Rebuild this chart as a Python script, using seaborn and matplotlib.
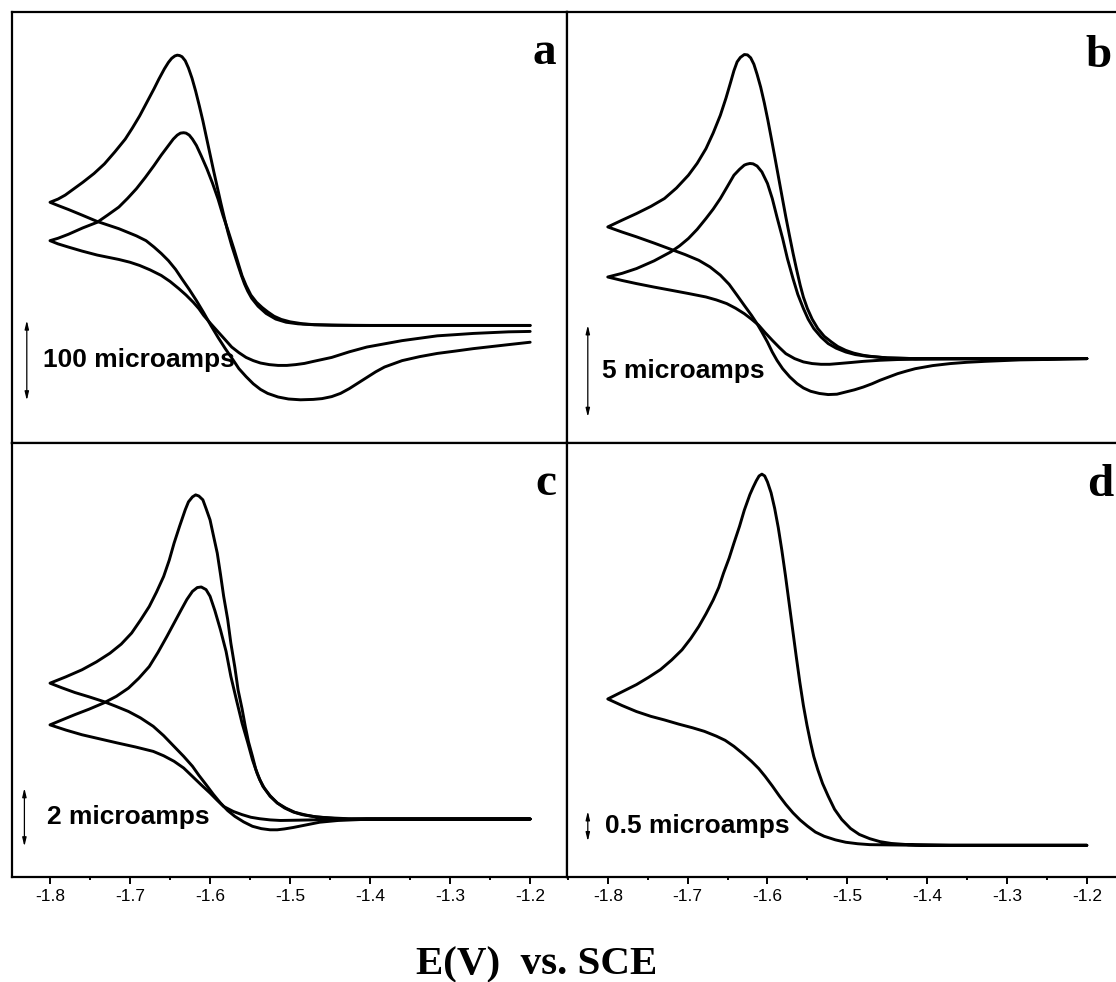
"""
Cyclic voltammograms (panels a-d), current vs E(V) vs. SCE
"""

import numpy as np
import pandas as pd
import matplotlib
matplotlib.use('Agg')
import matplotlib.pyplot as plt
from matplotlib.ticker import MultipleLocator, FormatStrFormatter
import seaborn as sns

# ---- panel a (microamps) ----
a1_E_fwd = [-1.200, -1.300, -1.400, -1.440, -1.470, -1.490, -1.505, -1.518, -1.530, -1.540, -1.548,
            -1.553, -1.557, -1.561, -1.565, -1.569, -1.573, -1.5775, -1.582, -1.5865, -1.591, -1.5955,
            -1.600, -1.6045, -1.609, -1.6135, -1.618, -1.6225, -1.627, -1.631, -1.635, -1.638, -1.641,
            -1.644, -1.648, -1.652, -1.657, -1.664, -1.670, -1.679, -1.688, -1.697, -1.706, -1.719,
            -1.732, -1.745, -1.759, -1.770, -1.781, -1.790, -1.800]
a1_I_fwd = [0, 0, 0, 0.3, 0.8, 2, 4, 8, 15, 24, 34,
            43, 52, 63, 75, 87.5, 100, 116, 134, 153, 173, 193,
            214, 235, 256, 275, 293, 309, 322, 331, 336, 337.5, 338,
            337, 334, 329, 321, 308, 296, 279, 262, 247, 233, 217,
            202, 190, 179, 171, 163, 158, 154]
a1_E_rev = [-1.800, -1.790, -1.777, -1.760, -1.741, -1.714, -1.692, -1.680, -1.670, -1.661, -1.652,
            -1.643, -1.635, -1.626, -1.617, -1.608, -1.599, -1.590, -1.581, -1.572, -1.564, -1.555,
            -1.546, -1.537, -1.528, -1.515, -1.502, -1.487, -1.471, -1.460, -1.448, -1.437, -1.426,
            -1.415, -1.404, -1.393, -1.382, -1.371, -1.360, -1.338, -1.316, -1.293, -1.271, -1.249,
            -1.227, -1.200]
a1_I_rev = [154, 150, 145, 138, 130, 121, 112, 106, 98, 90, 81,
            70, 58, 45, 31, 16, 0, -15, -29, -42, -54, -64,
            -73, -80, -85, -89.5, -92, -93, -92.5, -91.5, -89, -85, -79,
            -72, -65, -58, -52, -48, -44, -39, -35, -32, -29, -26.5,
            -24, -21]

a2_E_fwd = [-1.200, -1.300, -1.420, -1.448, -1.470, -1.484, -1.500, -1.511, -1.520, -1.528, -1.535,
            -1.542, -1.549, -1.555, -1.560, -1.564, -1.570, -1.577, -1.584, -1.590, -1.597, -1.604,
            -1.611, -1.617, -1.622, -1.626, -1.630, -1.633, -1.637, -1.641, -1.646, -1.652, -1.661,
            -1.670, -1.681, -1.692, -1.703, -1.714, -1.728, -1.741, -1.759, -1.777, -1.790, -1.800]
a2_I_fwd = [0, 0, 0, 0.3, 1, 2, 4.5, 7.5, 11.5, 17, 22.5,
            29, 38, 50, 62, 75, 95, 117, 138, 158, 178, 196,
            212, 225, 233, 238, 240.5, 241, 240.5, 238, 233, 225, 213,
            200, 185, 171, 159, 148, 138, 129, 122, 114, 109, 106]
a2_E_rev = [-1.800, -1.790, -1.777, -1.760, -1.741, -1.714, -1.700, -1.688, -1.675, -1.661, -1.650,
            -1.639, -1.630, -1.621, -1.614, -1.608, -1.599, -1.590, -1.581, -1.573, -1.564, -1.555,
            -1.546, -1.537, -1.526, -1.515, -1.504, -1.493, -1.482, -1.471, -1.448, -1.426, -1.404,
            -1.382, -1.360, -1.338, -1.316, -1.293, -1.271, -1.249, -1.227, -1.200]
a2_I_rev = [106, 102, 98, 93, 88, 82.5, 79, 75, 69.5, 62.5, 55,
            46, 38, 29, 21, 12.5, 2, -8, -18, -27, -34, -40,
            -44, -47, -49, -50, -50, -49, -47.5, -45, -40, -33, -27,
            -23, -19, -16, -13, -11.5, -10, -9, -8, -7.5]

# ---- panel b (microamps) ----
b1_E_fwd = [-1.200, -1.415, -1.450, -1.470, -1.480, -1.492, -1.502, -1.512, -1.520, -1.529, -1.537,
            -1.544, -1.550, -1.555, -1.559, -1.5635, -1.568, -1.5725, -1.577, -1.5815, -1.586, -1.5905,
            -1.595, -1.5995, -1.604, -1.6085, -1.613, -1.617, -1.621, -1.625, -1.629, -1.634, -1.638,
            -1.642, -1.646, -1.652, -1.659, -1.668, -1.677, -1.688, -1.699, -1.714, -1.729, -1.746,
            -1.764, -1.782, -1.800]
b1_I_fwd = [0, 0, 0.04, 0.12, 0.18, 0.3, 0.45, 0.66, 0.91, 1.22, 1.64,
            2.15, 2.73, 3.35, 4.0, 4.85, 5.75, 6.72, 7.72, 8.78, 9.85, 10.92,
            11.97, 13.0, 13.95, 14.8, 15.5, 16.05, 16.4, 16.56, 16.58, 16.42, 16.18,
            15.7, 15.09, 14.2, 13.27, 12.3, 11.45, 10.65, 10.0, 9.3, 8.73, 8.3,
            7.91, 7.55, 7.18]
b1_E_rev = [-1.800, -1.782, -1.764, -1.742, -1.721, -1.703, -1.686, -1.672, -1.659, -1.648, -1.638,
            -1.629, -1.620, -1.613, -1.607, -1.600, -1.594, -1.588, -1.581, -1.572, -1.563, -1.555,
            -1.546, -1.535, -1.524, -1.513, -1.502, -1.491, -1.480, -1.469, -1.459, -1.448, -1.437,
            -1.426, -1.415, -1.393, -1.371, -1.350, -1.328, -1.284, -1.240, -1.200]
b1_I_rev = [7.18, 6.9, 6.64, 6.3, 5.96, 5.67, 5.36, 5.0, 4.55, 4.05, 3.45,
            2.9, 2.36, 1.9, 1.45, 0.9, 0.36, -0.1, -0.55, -1.0, -1.36, -1.6,
            -1.78, -1.9, -1.96, -1.94, -1.82, -1.7, -1.55, -1.37, -1.18, -1.0, -0.82,
            -0.68, -0.55, -0.38, -0.27, -0.2, -0.15, -0.07, -0.04, 0]

b2_E_fwd = [-1.200, -1.415, -1.450, -1.476, -1.490, -1.502, -1.514, -1.524, -1.533, -1.542, -1.549,
            -1.555, -1.562, -1.568, -1.575, -1.581, -1.588, -1.594, -1.600, -1.607, -1.613, -1.618,
            -1.622, -1.626, -1.629, -1.635, -1.642, -1.650, -1.659, -1.668, -1.677, -1.688, -1.699,
            -1.710, -1.721, -1.742, -1.764, -1.782, -1.800]
b2_I_fwd = [0, 0, 0.04, 0.13, 0.22, 0.36, 0.57, 0.82, 1.18, 1.64, 2.15,
            2.73, 3.5, 4.36, 5.45, 6.55, 7.7, 8.73, 9.55, 10.18, 10.5, 10.62,
            10.64, 10.6, 10.55, 10.32, 10.0, 9.4, 8.73, 8.15, 7.64, 7.05, 6.55,
            6.15, 5.82, 5.33, 4.91, 4.65, 4.45]
b2_E_rev = [-1.800, -1.782, -1.764, -1.742, -1.721, -1.699, -1.677, -1.664, -1.651, -1.640, -1.629,
            -1.620, -1.611, -1.603, -1.594, -1.585, -1.577, -1.566, -1.555, -1.544, -1.533, -1.522,
            -1.511, -1.495, -1.480, -1.459, -1.437, -1.404, -1.371, -1.300, -1.200]
b2_I_rev = [4.45, 4.26, 4.09, 3.9, 3.73, 3.55, 3.36, 3.2, 3.0, 2.75, 2.45,
            2.15, 1.82, 1.42, 1.0, 0.6, 0.27, 0.0, -0.18, -0.27, -0.31, -0.31,
            -0.27, -0.21, -0.15, -0.09, -0.05, -0.03, -0.02, -0.01, 0]

# ---- panel c (microamps) ----
c1_E_fwd = [-1.200, -1.427, -1.445, -1.458, -1.472, -1.485, -1.496, -1.507, -1.516, -1.525, -1.532,
            -1.538, -1.543, -1.547, -1.552, -1.556, -1.560, -1.565, -1.569, -1.574, -1.578, -1.583,
            -1.587, -1.591, -1.596, -1.600, -1.605, -1.609, -1.614, -1.618, -1.622, -1.627, -1.631,
            -1.638, -1.645, -1.651, -1.658, -1.667, -1.676, -1.687, -1.698, -1.711, -1.725, -1.742,
            -1.760, -1.780, -1.800]
c1_I_fwd = [0, 0, 0.02, 0.05, 0.09, 0.15, 0.24, 0.38, 0.55, 0.78, 1.05,
            1.35, 1.72, 2.15, 2.65, 3.18, 3.78, 4.43, 5.2, 6.03, 6.85, 7.64,
            8.4, 9.12, 9.75, 10.26, 10.65, 10.95, 11.08, 11.12, 11.05, 10.88, 10.61,
            10.05, 9.46, 8.88, 8.32, 7.78, 7.29, 6.82, 6.38, 6.0, 5.69, 5.39,
            5.12, 4.88, 4.66]
c1_E_rev = [-1.800, -1.785, -1.769, -1.751, -1.733, -1.718, -1.702, -1.687, -1.671, -1.658, -1.645,
            -1.633, -1.622, -1.614, -1.605, -1.596, -1.587, -1.578, -1.569, -1.558, -1.547, -1.536,
            -1.525, -1.516, -1.507, -1.496, -1.485, -1.474, -1.463, -1.440, -1.405, -1.200]
c1_I_rev = [4.66, 4.5, 4.34, 4.19, 4.03, 3.87, 3.69, 3.47, 3.18, 2.86, 2.49,
            2.15, 1.81, 1.5, 1.18, 0.85, 0.55, 0.29, 0.09, -0.1, -0.25, -0.33,
            -0.37, -0.37, -0.34, -0.29, -0.23, -0.17, -0.11, -0.05, -0.01, 0]

c2_E_fwd = [-1.200, -1.427, -1.450, -1.467, -1.481, -1.494, -1.505, -1.516, -1.525, -1.534, -1.541,
            -1.547, -1.553, -1.560, -1.567, -1.574, -1.580, -1.587, -1.594, -1.600, -1.605, -1.611,
            -1.616, -1.622, -1.629, -1.636, -1.645, -1.654, -1.665, -1.676, -1.689, -1.702, -1.717,
            -1.733, -1.751, -1.769, -1.785, -1.800]
c2_I_fwd = [0, 0.01, 0.04, 0.07, 0.14, 0.23, 0.37, 0.55, 0.8, 1.12, 1.55,
            2.03, 2.63, 3.29, 4.08, 4.89, 5.75, 6.49, 7.15, 7.64, 7.87, 7.96,
            7.94, 7.81, 7.53, 7.18, 6.72, 6.26, 5.72, 5.23, 4.83, 4.49, 4.21,
            3.98, 3.77, 3.58, 3.4, 3.23]
c2_E_rev = [-1.800, -1.780, -1.760, -1.738, -1.716, -1.693, -1.671, -1.658, -1.645, -1.633, -1.622,
            -1.611, -1.600, -1.591, -1.583, -1.571, -1.560, -1.549, -1.538, -1.525, -1.512, -1.490,
            -1.472, -1.405, -1.200]
c2_I_rev = [3.23, 3.05, 2.89, 2.75, 2.61, 2.47, 2.32, 2.17, 1.98, 1.75, 1.46,
            1.17, 0.89, 0.64, 0.43, 0.26, 0.15, 0.06, 0.01, -0.03, -0.05, -0.04,
            -0.03, -0.01, 0]

# ---- panel d (microamps) ----
d1_E_fwd = [-1.200, -1.371, -1.424, -1.445, -1.459, -1.472, -1.485, -1.496, -1.507, -1.516, -1.524,
            -1.531, -1.537, -1.542, -1.546, -1.5505, -1.555, -1.5595, -1.564, -1.5685, -1.573, -1.5775,
            -1.582, -1.5865, -1.591, -1.5955, -1.600, -1.6035, -1.607, -1.6105, -1.614, -1.618, -1.622,
            -1.629, -1.635, -1.642, -1.648, -1.655, -1.661, -1.668, -1.677, -1.686, -1.696, -1.707,
            -1.720, -1.734, -1.749, -1.764, -1.782, -1.800]
d1_I_fwd = [0, 0, 0.01, 0.03, 0.06, 0.11, 0.18, 0.28, 0.43, 0.6, 0.82,
            1.03, 1.26, 1.48, 1.71, 2.0, 2.33, 2.72, 3.15, 3.6, 4.05, 4.5,
            4.92, 5.3, 5.62, 5.88, 6.06, 6.16, 6.19, 6.16, 6.08, 5.97, 5.85,
            5.59, 5.32, 5.04, 4.79, 4.54, 4.3, 4.09, 3.86, 3.65, 3.45, 3.26,
            3.09, 2.93, 2.8, 2.68, 2.56, 2.44]
d1_E_rev = [-1.800, -1.782, -1.764, -1.746, -1.729, -1.711, -1.694, -1.679, -1.664, -1.653, -1.642,
            -1.631, -1.620, -1.611, -1.603, -1.594, -1.585, -1.577, -1.568, -1.559, -1.550, -1.540,
            -1.529, -1.515, -1.502, -1.487, -1.472, -1.415, -1.200]
d1_I_rev = [2.44, 2.33, 2.23, 2.15, 2.09, 2.02, 1.96, 1.9, 1.82, 1.75, 1.65,
            1.53, 1.40, 1.28, 1.15, 0.99, 0.82, 0.68, 0.54, 0.42, 0.32, 0.22,
            0.15, 0.09, 0.05, 0.025, 0.01, 0, 0]

panel_letters = ['a', 'b', 'c', 'd']
scale_labels = ['100 microamps', '5 microamps', '2 microamps', '0.5 microamps']
scale_sizes = [100, 5, 2, 0.5]          # microamps
scale_bottoms = [-93.75, -3.18, -0.94, 0.067]
x_ticks = [-1.8, -1.7, -1.6, -1.5, -1.4, -1.3, -1.2]


def loop_frame(E_fwd, I_fwd, E_rev, I_rev):
    E = list(E_fwd) + list(E_rev)[1:]
    I = list(I_fwd) + list(I_rev)[1:]
    return pd.DataFrame({'E': E, 'I': I})


curves = {
    'a': [loop_frame(a1_E_fwd, a1_I_fwd, a1_E_rev, a1_I_rev),
          loop_frame(a2_E_fwd, a2_I_fwd, a2_E_rev, a2_I_rev)],
    'b': [loop_frame(b1_E_fwd, b1_I_fwd, b1_E_rev, b1_I_rev),
          loop_frame(b2_E_fwd, b2_I_fwd, b2_E_rev, b2_I_rev)],
    'c': [loop_frame(c1_E_fwd, c1_I_fwd, c1_E_rev, c1_I_rev),
          loop_frame(c2_E_fwd, c2_I_fwd, c2_E_rev, c2_I_rev)],
    'd': [loop_frame(d1_E_fwd, d1_I_fwd, d1_E_rev, d1_I_rev)],
}

sns.set_style('white')
plt.rcParams['font.family'] = ['Liberation Sans', 'DejaVu Sans']
plt.rcParams['axes.unicode_minus'] = False
plt.rcParams['text.color'] = 'black'
plt.rcParams['xtick.color'] = 'black'
plt.rcParams['axes.labelcolor'] = 'black'

fig = plt.figure(figsize=(11.16, 9.82), dpi=100)

# axes boxes (right column runs past the figure edge, as in the cropped original)
boxes = [[0.01075, 0.5489, 0.4973, 0.4389],
         [0.5081, 0.5489, 0.4973, 0.4389],
         [0.01075, 0.1069, 0.4973, 0.4420],
         [0.5081, 0.1069, 0.4973, 0.4420]]
xlims = [(-1.8475, -1.154), (-1.851, -1.156), (-1.8475, -1.154), (-1.851, -1.156)]
ylims = [(-147, 392), (-4.6, 18.9), (-1.99, 12.9), (-0.53, 6.71)]
arrow_x = [-1.829, -1.825, -1.832, -1.825]
text_x = [-1.809, -1.8075, -1.804, -1.803]
letter_pos = [(0.980, 0.879), (0.982, 0.873), (0.980, 0.880), (0.985, 0.878)]

for idx, letter in enumerate(panel_letters):
    ax = fig.add_axes(boxes[idx])
    for df in curves[letter]:
        sns.lineplot(data=df, x='E', y='I', sort=False, estimator=None,
                     color='black', linewidth=2.1, ax=ax,
                     solid_joinstyle='round', solid_capstyle='round')
    ax.set_xlim(xlims[idx])
    ax.set_ylim(ylims[idx])
    ax.set_xlabel('')
    ax.set_ylabel('')
    ax.set_yticks([])
    for sp in ax.spines.values():
        sp.set_visible(True)
        sp.set_color('black')
        sp.set_linewidth(1.6)

    if idx < 2:
        ax.set_xticks([])
    else:
        ax.set_xticks(x_ticks)
        ax.xaxis.set_minor_locator(MultipleLocator(0.05))
        ax.xaxis.set_major_formatter(FormatStrFormatter('%.1f'))
        ax.tick_params(axis='x', which='major', direction='out', length=5, width=1.4,
                       pad=3.5, labelsize=12.5, bottom=True, colors='black')
        ax.tick_params(axis='x', which='minor', direction='out', length=2.5, width=1.4,
                       bottom=True, colors='black')

    # scale bar
    lo = scale_bottoms[idx]
    hi = lo + scale_sizes[idx]
    ax.annotate('', xy=(arrow_x[idx], hi), xytext=(arrow_x[idx], lo),
                arrowprops=dict(arrowstyle='<|-|>,head_length=0.5,head_width=0.12',
                                color='black', lw=0.9, shrinkA=0, shrinkB=0))
    ax.text(text_x[idx], (lo + hi) / 2, scale_labels[idx], ha='left', va='center',
            fontsize=19, fontweight='bold', color='black')

    ax.text(letter_pos[idx][0], letter_pos[idx][1], letter, transform=ax.transAxes,
            ha='right', va='baseline', fontsize=34, fontweight='bold', color='black',
            family=['Liberation Serif', 'DejaVu Serif'])

fig.text(0.4805, 0.0075, 'E(V)  vs. SCE', ha='center', va='baseline', fontsize=29.5,
         fontweight='bold', color='black', family=['Liberation Serif', 'DejaVu Serif'])

fig.savefig('out.png', dpi=100)
plt.close(fig)
